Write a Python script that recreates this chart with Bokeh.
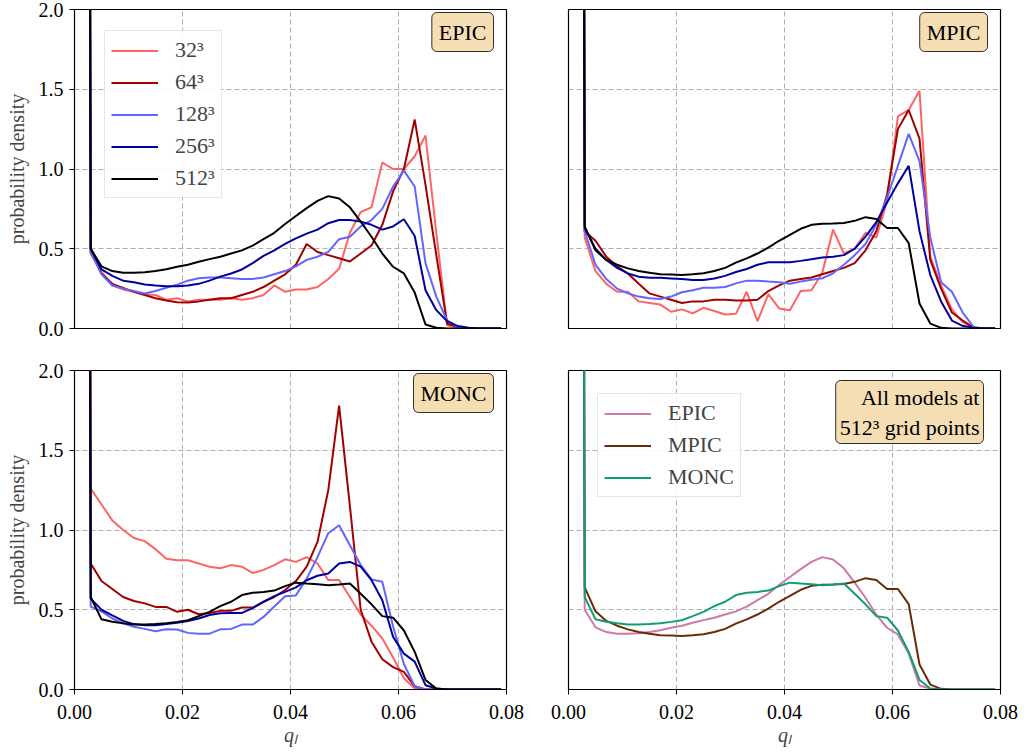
import numpy as np
from bokeh.plotting import figure
from bokeh.layouts import row, column
from bokeh.models import Label, Legend, LegendItem, FixedTicker, Range1d, CustomJSTickFormatter
from bokeh.embed import file_html
from bokeh.resources import INLINE

# bin centres of q_l
q_l = [0.001 + 0.002 * k for k in range(40)]

def pad(vals):
    return list(vals) + [0.0] * (40 - len(vals))

resolutions = ["32³", "64³", "128³", "256³", "512³"]
res_colors = ["#ff6464", "#a00000", "#6464ff", "#0000a0", "#000000"]

# ---- EPIC ----
epic_32 = pad([30, 0.47, 0.355, 0.27, 0.245, 0.23, 0.215, 0.21, 0.18, 0.19, 0.17, 0.18, 0.18, 0.18, 0.19,
               0.18, 0.19, 0.21, 0.27, 0.23, 0.245, 0.245, 0.26, 0.31, 0.375, 0.6, 0.73, 0.76, 1.04, 1.0,
               1.0, 1.08, 1.21, 0.6, 0.02, 0.005])
epic_64 = pad([30, 0.48, 0.345, 0.28, 0.255, 0.23, 0.21, 0.19, 0.175, 0.165, 0.163, 0.17, 0.18, 0.19, 0.19,
               0.21, 0.23, 0.26, 0.3, 0.34, 0.4, 0.53, 0.48, 0.46, 0.44, 0.42, 0.47, 0.52, 0.65, 0.86,
               1.0, 1.31, 0.9, 0.46, 0.03, 0.01])
epic_128 = pad([30, 0.48, 0.34, 0.27, 0.25, 0.235, 0.22, 0.235, 0.255, 0.275, 0.3, 0.315, 0.32, 0.32, 0.315,
                0.31, 0.31, 0.32, 0.34, 0.36, 0.39, 0.43, 0.45, 0.48, 0.56, 0.575, 0.64, 0.68, 0.75, 0.89,
                0.99, 0.89, 0.41, 0.2, 0.05, 0.01])
epic_256 = pad([30, 0.5, 0.37, 0.33, 0.3, 0.29, 0.276, 0.27, 0.265, 0.265, 0.27, 0.28, 0.3, 0.325, 0.345,
                0.37, 0.41, 0.455, 0.49, 0.53, 0.565, 0.595, 0.62, 0.66, 0.68, 0.68, 0.67, 0.65, 0.62, 0.64,
                0.685, 0.58, 0.24, 0.115, 0.046, 0.015, 0.005])
epic_512 = pad([30, 0.5, 0.39, 0.36, 0.35, 0.35, 0.353, 0.36, 0.372, 0.387, 0.4, 0.418, 0.435, 0.45, 0.47,
                0.49, 0.52, 0.56, 0.6, 0.655, 0.705, 0.755, 0.8, 0.83, 0.815, 0.76, 0.67, 0.575, 0.47, 0.387,
                0.345, 0.225, 0.025, 0.005])

# ---- MPIC ----
mpic_32 = pad([30, 0.57, 0.36, 0.28, 0.23, 0.23, 0.17, 0.16, 0.15, 0.105, 0.12, 0.095, 0.13, 0.11, 0.088,
               0.092, 0.23, 0.046, 0.215, 0.126, 0.115, 0.235, 0.24, 0.35, 0.62, 0.47, 0.5, 0.6, 0.57, 0.8,
               1.33, 1.37, 1.49, 0.45, 0.27, 0.12, 0.04, 0.005])
mpic_64 = pad([30, 0.61, 0.55, 0.45, 0.39, 0.345, 0.28, 0.22, 0.2, 0.18, 0.16, 0.17, 0.17, 0.18, 0.18,
               0.175, 0.175, 0.18, 0.235, 0.27, 0.3, 0.31, 0.32, 0.34, 0.36, 0.38, 0.41, 0.49, 0.61, 0.84,
               1.25, 1.37, 1.19, 0.43, 0.25, 0.1, 0.05, 0.005])
mpic_128 = pad([30, 0.61, 0.4, 0.31, 0.25, 0.22, 0.2, 0.19, 0.185, 0.2, 0.227, 0.24, 0.256, 0.256, 0.26,
                0.283, 0.3, 0.3, 0.294, 0.29, 0.28, 0.294, 0.305, 0.315, 0.346, 0.4, 0.46, 0.53, 0.65, 0.82,
                1.02, 1.22, 1.05, 0.57, 0.29, 0.23, 0.1, 0.01])
mpic_256 = pad([30, 0.63, 0.5, 0.43, 0.38, 0.345, 0.325, 0.318, 0.318, 0.314, 0.31, 0.304, 0.304, 0.314, 0.33,
                0.354, 0.373, 0.4, 0.415, 0.415, 0.415, 0.424, 0.434, 0.445, 0.45, 0.46, 0.5, 0.576, 0.667, 0.79,
                0.91, 1.02, 0.61, 0.335, 0.17, 0.05, 0.017, 0.004])
mpic_512 = pad([30, 0.64, 0.49, 0.43, 0.4, 0.377, 0.36, 0.35, 0.34, 0.338, 0.335, 0.34, 0.346, 0.36, 0.38,
                0.413, 0.44, 0.47, 0.507, 0.55, 0.587, 0.625, 0.65, 0.656, 0.658, 0.662, 0.675, 0.698, 0.686, 0.63,
                0.63, 0.535, 0.157, 0.031, 0.004])

# ---- MONC ----
monc_32 = pad([30, 1.26, 1.16, 1.06, 1.0, 0.95, 0.93, 0.88, 0.82, 0.81, 0.81, 0.79, 0.77, 0.76, 0.78,
               0.77, 0.73, 0.75, 0.78, 0.816, 0.8, 0.83, 0.79, 0.686, 0.686, 0.58, 0.47, 0.4, 0.32, 0.2,
               0.07, 0.006])
monc_64 = pad([30, 0.79, 0.68, 0.63, 0.58, 0.555, 0.54, 0.518, 0.518, 0.487, 0.5, 0.472, 0.48, 0.493, 0.493,
               0.514, 0.514, 0.55, 0.58, 0.624, 0.68, 0.77, 0.925, 1.25, 1.78, 1.15, 0.5, 0.3, 0.19, 0.14,
               0.11, 0.02])
monc_128 = pad([30, 0.52, 0.49, 0.445, 0.415, 0.393, 0.38, 0.365, 0.378, 0.376, 0.355, 0.35, 0.35, 0.377, 0.38,
                0.407, 0.407, 0.455, 0.52, 0.585, 0.59, 0.695, 0.83, 0.98, 1.03, 0.905, 0.78, 0.69, 0.676, 0.395,
                0.16, 0.02])
monc_256 = pad([30, 0.57, 0.5, 0.465, 0.43, 0.41, 0.403, 0.403, 0.41, 0.418, 0.43, 0.445, 0.467, 0.478, 0.48,
                0.48, 0.51, 0.55, 0.585, 0.612, 0.64, 0.685, 0.713, 0.727, 0.79, 0.8, 0.77, 0.685, 0.56, 0.33,
                0.225, 0.175, 0.027, 0.006])
monc_512 = pad([30, 0.58, 0.44, 0.425, 0.415, 0.408, 0.408, 0.41, 0.416, 0.424, 0.434, 0.46, 0.487, 0.523, 0.55,
                0.592, 0.606, 0.612, 0.62, 0.648, 0.67, 0.664, 0.66, 0.654, 0.658, 0.665, 0.6, 0.534, 0.46, 0.45,
                0.37, 0.236, 0.06, 0.006])

models = ["EPIC", "MPIC", "MONC"]
model_colors = ["#cc79a7", "#6b2a06", "#0f9e74"]

x_ticks = [0.0, 0.02, 0.04, 0.06, 0.08]
y_ticks = [0.0, 0.5, 1.0, 1.5, 2.0]

FONT = "Liberation Serif"
FW, FH = 432, 319


def make_fig(left_axis, bottom_axis, bl, br, bt, bb):
    p = figure(frame_width=FW, frame_height=FH, output_backend="svg", toolbar_location=None,
               x_range=Range1d(0, 0.08), y_range=Range1d(0, 2.0),
               min_border_left=bl, min_border_right=br, min_border_top=bt, min_border_bottom=bb)
    p.outline_line_color = "black"
    p.outline_line_width = 1.2
    p.outline_line_alpha = 1.0
    p.background_fill_color = "white"
    p.border_fill_color = "white"
    p.xaxis.ticker = FixedTicker(ticks=x_ticks)
    p.yaxis.ticker = FixedTicker(ticks=y_ticks)
    for ax in (p.xaxis[0], p.yaxis[0]):
        ax.major_label_text_font = FONT
        ax.major_label_text_font_size = "20px"
        ax.major_label_text_color = "black"
        ax.axis_line_color = "black"
        ax.major_tick_line_color = "black"
        ax.major_tick_in = 0
        ax.major_tick_out = 5
        ax.minor_tick_line_color = None
        ax.axis_label_text_font = FONT
        ax.axis_label_text_font_size = "20px"
        ax.axis_label_text_font_style = "normal"
    p.xaxis.formatter = CustomJSTickFormatter(code="return tick.toFixed(2);")
    p.yaxis.formatter = CustomJSTickFormatter(code="return tick.toFixed(1);")
    p.xaxis.major_label_standoff = 10
    p.yaxis.major_label_standoff = 6
    if not bottom_axis:
        p.xaxis.major_label_text_font_size = "0px"
        p.xaxis.major_tick_out = 0
        p.xaxis.major_label_standoff = 0
    else:
        p.xaxis.axis_label = "qₗ"
        p.xaxis.axis_label_text_font_style = "italic"
        p.xaxis.axis_label_standoff = 2
    if not left_axis:
        p.yaxis.major_label_text_font_size = "0px"
        p.yaxis.major_tick_out = 0
        p.yaxis.major_label_standoff = 0
    else:
        p.yaxis.axis_label = "probability density"
        p.yaxis.axis_label_standoff = 8
    for g in (p.xgrid[0], p.ygrid[0]):
        g.grid_line_color = "#b0b0b0"
        g.grid_line_dash = "5 3"
        g.grid_line_width = 1
    return p


def add_box(p, text, right_px, top_px, padding):
    lab = Label(x=0.08 - right_px / (FW / 0.08), y=2.0 - top_px / (FH / 2.0), text=text,
                text_align="right", text_baseline="top", text_font=FONT, text_font_size="22px",
                text_color="black", background_fill_color="#f5deb3", background_fill_alpha=1.0,
                border_line_color="black", border_line_width=1, border_line_alpha=0.8,
                padding=padding, border_radius=5)
    p.add_layout(lab)


def style_legend(leg, loc):
    leg.location = loc
    leg.label_text_font = FONT
    leg.label_text_font_size = "22px"
    leg.glyph_width = 47
    leg.glyph_height = 25
    leg.label_height = 25
    leg.label_standoff = 17
    leg.spacing = 6
    leg.padding = 6
    leg.margin = 0
    leg.border_line_color = "#cccccc"
    leg.border_line_width = 1
    leg.background_fill_alpha = 0.85


panel_data = [
    ("EPIC", [epic_32, epic_64, epic_128, epic_256, epic_512]),
    ("MPIC", [mpic_32, mpic_64, mpic_128, mpic_256, mpic_512]),
    ("MONC", [monc_32, monc_64, monc_128, monc_256, monc_512]),
]

p1 = make_fig(True, False, 74, 30, 9, 20)
p2 = make_fig(False, False, 32, 18, 9, 20)
p3 = make_fig(True, True, 74, 30, 22, 60)
p4 = make_fig(False, True, 32, 18, 22, 60)

legend_items = []
for p, (name, series) in zip([p1, p2, p3], panel_data):
    for lbl, col, ys in zip(resolutions, res_colors, series):
        r = p.line(q_l, ys, line_color=col, line_width=2)
        if p is p1:
            legend_items.append(LegendItem(label=lbl, renderers=[r]))
    add_box(p, name, 13, 3, 7)

leg1 = Legend(items=legend_items)
style_legend(leg1, (30, 130))
p1.add_layout(leg1)

cmp_items = []
for name, col, ys in zip(models, model_colors, [epic_512, mpic_512, monc_512]):
    r = p4.line(q_l, ys, line_color=col, line_width=2)
    cmp_items.append(LegendItem(label=name, renderers=[r]))
leg4 = Legend(items=cmp_items)
style_legend(leg4, (29, 192))
p4.add_layout(leg4)
add_box(p4, "All models at\n512³ grid points", 17, 10, 4)

layout = row(column(p1, p3), column(p2, p4))
open("out.html", "w").write(file_html(layout, INLINE))
